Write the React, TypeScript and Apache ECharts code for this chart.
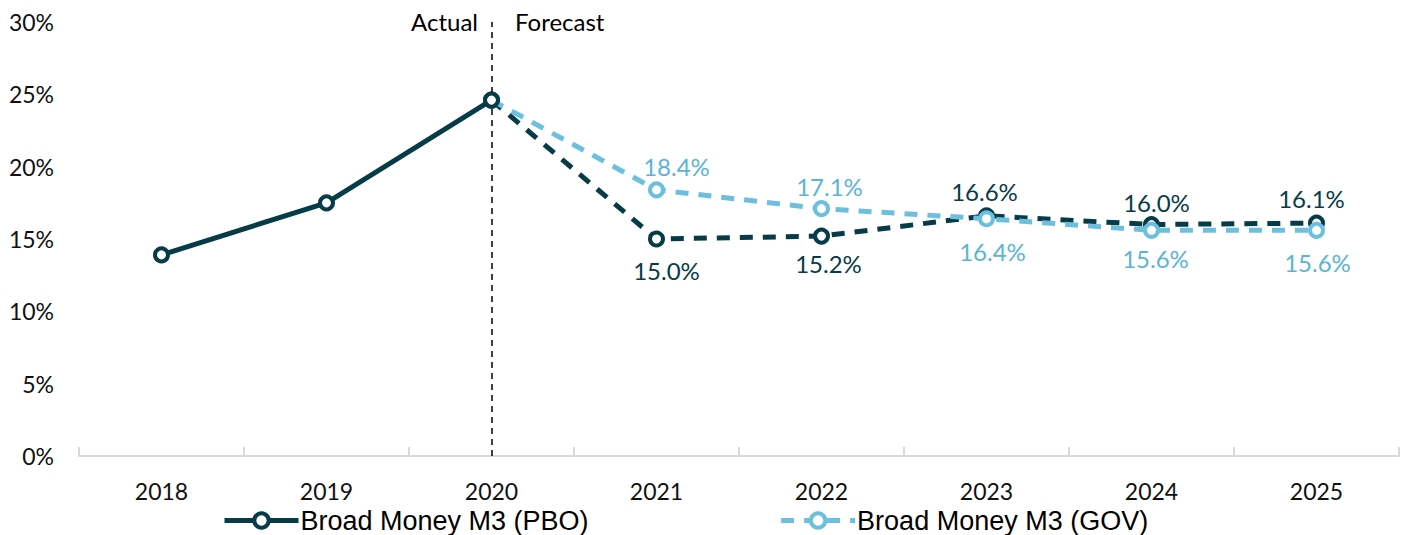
import React, { useEffect, useRef } from "react";
import * as echarts from "echarts";

const years = ["2018", "2019", "2020", "2021", "2022", "2023", "2024", "2025"];
const pboActual: (number | null)[] = [13.9, 17.5, 24.6, null, null, null, null, null];
const pboForecast: (number | null)[] = [null, null, 24.6, 15.0, 15.2, 16.6, 16.0, 16.1];
const govForecast: (number | null)[] = [null, null, 24.6, 18.4, 17.1, 16.4, 15.6, 15.6];
const yTicks = [0, 5, 10, 15, 20, 25, 30];

// label placement (position, distance, horizontal nudge) per forecast year index
const pboLabelPlace: Record<number, [string, number, number]> = {
  3: ["bottom", 11, 10],
  4: ["bottom", 7, 7],
  5: ["top", 4, -2],
  6: ["top", 2, 5],
  7: ["top", 4, -5],
};
const govLabelPlace: Record<number, [string, number, number]> = {
  3: ["top", 3, 20],
  4: ["top", 2, 8],
  5: ["bottom", 12, 6],
  6: ["bottom", 8, 4],
  7: ["bottom", 12, 1],
};

const DARK = "#063b48";
const LIGHT = "#6cc0de";
const LIGHT_TXT = "#5ab4d3";
const CAL = "Lato, 'Open Sans', sans-serif";

export default function App() {
  const ref = useRef<HTMLDivElement>(null);
  useEffect(() => {
    if (!ref.current) return;
    const chart = echarts.init(ref.current, undefined, { renderer: "svg" });
    const sym = {
      symbol: "circle",
      symbolSize: 13,
    };
    const withLabels = (arr: (number | null)[], place: Record<number, [string, number, number]>, hideFirst: boolean) =>
      arr.map((v, i) => {
        if (v == null) return v;
        const p = place[i];
        if (!p) return hideFirst ? { value: v, symbol: "none" } : v;
        return {
          value: v,
          label: { show: true, position: p[0], distance: p[1], offset: [p[2], 0] },
        };
      });
    const pboData = withLabels(pboForecast, pboLabelPlace, false);
    const govData = withLabels(govForecast, govLabelPlace, true);
    chart.setOption({
      animation: false,
      grid: { left: 79, right: 10, top: 22, bottom: 79 },
      xAxis: {
        type: "category",
        data: years,
        boundaryGap: true,
        axisLine: { lineStyle: { color: "#d9d9d9", width: 2 } },
        axisTick: { show: true, inside: true, length: 9, lineStyle: { color: "#d9d9d9", width: 2 } },
        axisLabel: { color: "#111", fontFamily: CAL, fontSize: 23, margin: 23 },
      },
      yAxis: {
        type: "value",
        min: yTicks[0],
        max: yTicks[yTicks.length - 1],
        interval: 5,
        splitLine: { show: false },
        axisLine: { show: false },
        axisTick: { show: false },
        axisLabel: { color: "#111", fontFamily: CAL, fontSize: 23, margin: 25, formatter: "{value}%" },
      },
      legend: {
        data: ["Broad Money M3 (PBO)", "Broad Money M3 (GOV)"],
        left: 217,
        top: 502,
        itemWidth: 74,
        itemHeight: 18,
        itemGap: 190,
        lineStyle: { width: 5 },
        itemStyle: { borderWidth: 4 },
        textStyle: { fontFamily: "'Liberation Sans', Arial, sans-serif", fontSize: 27, color: "#000", padding: [0, 0, 0, -3] },
      },
      series: [
        {
          name: "Broad Money M3 (PBO) forecast",
          type: "line",
          data: pboData,
          ...sym,
          z: 3,
          lineStyle: { color: DARK, width: 5, type: [13, 10], cap: "butt" },
          itemStyle: { color: "#fff", borderColor: DARK, borderWidth: 4 },
          label: {
            show: false,
            formatter: (p: any) => p.value.toFixed(1) + "%",
            color: DARK,
            fontFamily: CAL,
            fontSize: 24,
          },
        },
        {
          name: "Broad Money M3 (GOV)",
          type: "line",
          data: govData,
          ...sym,
          z: 4,
          lineStyle: { color: LIGHT, width: 5, type: [13, 10], cap: "butt" },
          itemStyle: { color: "#fff", borderColor: LIGHT, borderWidth: 4 },
          label: {
            show: false,
            formatter: (p: any) => p.value.toFixed(1) + "%",
            color: LIGHT_TXT,
            fontFamily: CAL,
            fontSize: 24,
          },
        },
        {
          name: "Broad Money M3 (PBO)",
          type: "line",
          data: pboActual,
          ...sym,
          z: 5,
          lineStyle: { color: DARK, width: 5 },
          itemStyle: { color: "#fff", borderColor: DARK, borderWidth: 4 },
          markLine: {
            silent: true,
            symbol: "none",
            label: { show: false },
            lineStyle: { color: "#000", width: 1.5, type: [6, 5] },
            data: [{ xAxis: "2020" }],
          },
        },
      ],
      graphic: [
        {
          type: "text",
          right: 1409 - 478,
          top: 9,
          style: { text: "Actual", fontFamily: CAL, fontSize: 24, fill: "#000" },
        },
        {
          type: "text",
          left: 515,
          top: 9,
          style: { text: "Forecast", fontFamily: CAL, fontSize: 24, fill: "#000" },
        },
      ],
    });
    return () => chart.dispose();
  }, []);
  return (
    <div
      ref={ref}
      style={{ position: "fixed", left: 0, top: 0, width: 1409, height: 535, background: "#fff" }}
    />
  );
}
